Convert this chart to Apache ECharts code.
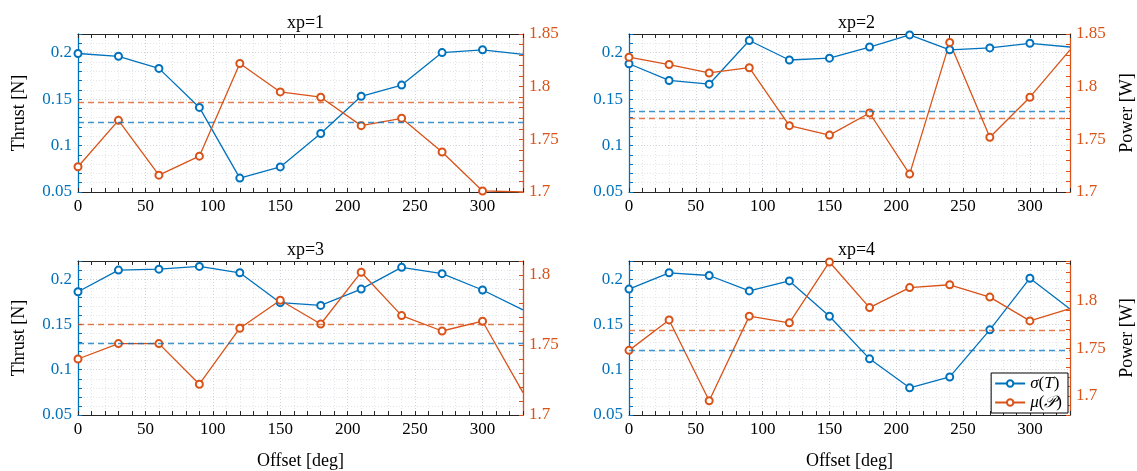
<!DOCTYPE html>
<html>
<head>
<meta charset="utf-8">
<script src="https://cdn.jsdelivr.net/npm/echarts@6/dist/echarts.min.js"></script>
<style>
  html, body { margin: 0; padding: 0; background: #fff; }
  #chart { width: 1137px; height: 471px; }
</style>
</head>
<body>
<div id="chart"></div>
<script>
// offsets [deg], one sample every 30 deg
var offsets = [0, 30, 60, 90, 120, 150, 180, 210, 240, 270, 300, 330];

// sigma(T) [N] per experiment
var thrust1 = [0.199, 0.196, 0.183, 0.141, 0.065, 0.077, 0.113, 0.153, 0.165, 0.200, 0.203, 0.198];
var thrust2 = [0.188, 0.170, 0.166, 0.213, 0.192, 0.194, 0.206, 0.219, 0.203, 0.205, 0.210, 0.206];
var thrust3 = [0.186, 0.210, 0.211, 0.214, 0.207, 0.174, 0.171, 0.189, 0.213, 0.206, 0.188, 0.166];
var thrust4 = [0.189, 0.207, 0.204, 0.187, 0.198, 0.159, 0.112, 0.080, 0.092, 0.144, 0.201, 0.167];

// mu(P) [W] per experiment
var power1 = [1.724, 1.768, 1.716, 1.734, 1.822, 1.795, 1.790, 1.763, 1.770, 1.738, 1.701, 1.700];
var power2 = [1.828, 1.821, 1.813, 1.818, 1.763, 1.754, 1.775, 1.717, 1.842, 1.752, 1.790, 1.835];
var power3 = [1.740, 1.751, 1.751, 1.722, 1.762, 1.782, 1.765, 1.802, 1.771, 1.760, 1.767, 1.716];
var power4 = [1.748, 1.780, 1.695, 1.784, 1.777, 1.841, 1.793, 1.814, 1.817, 1.804, 1.779, 1.792];

// dashed reference levels
var thrustRef = [0.1255, 0.1365, 0.129, 0.122];
var powerRef = [1.785, 1.770, 1.765, 1.769];

// tick labels
var offsetTicks = [0, 50, 100, 150, 200, 250, 300];
var thrustTicks = [0.05, 0.1, 0.15, 0.2];
var powerTicks1 = [1.7, 1.75, 1.8, 1.85];
var powerTicks2 = [1.7, 1.75, 1.8, 1.85];
var powerTicks3 = [1.7, 1.75, 1.8];
var powerTicks4 = [1.7, 1.75, 1.8];

var titles = ['xp=1', 'xp=2', 'xp=3', 'xp=4'];

var thrust = [thrust1, thrust2, thrust3, thrust4];
var power = [power1, power2, power3, power4];
var powerTicks = [powerTicks1, powerTicks2, powerTicks3, powerTicks4];
var powerMin = [1.7, 1.7, 1.7, 1.68];
var powerMax = [1.85, 1.85, 1.81, 1.842];

var BLUE = '#0072BD';
var ORANGE = '#D95319';
var DARK = '#262626';
var FONT = "'Liberation Serif', 'DejaVu Serif', serif";
var MAJOR = '#cfd4da';
var MINOR = '#e2e6ea';

var boxes = [
  { left: 78, top: 34 },
  { left: 629, top: 34 },
  { left: 78, top: 261 },
  { left: 629, top: 261 }
];
var W = 445, H = 158;

function tickFmt(list) {
  return function (v) {
    for (var k = 0; k < list.length; k++) {
      if (Math.abs(list[k] - v) < 1e-6) return String(list[k]);
    }
    return '';
  };
}

var grid = [], xAxis = [], yAxis = [], series = [], title = [];

for (var i = 0; i < 4; i++) {
  var b = boxes[i];
  grid.push({ left: b.left, top: b.top, width: W, height: H, containLabel: false });

  title.push({
    text: titles[i],
    left: b.left + W / 2,
    top: b.top - 25,
    textAlign: 'center',
    textStyle: { fontFamily: FONT, fontSize: 18, fontWeight: 'normal', color: '#000' }
  });

  // bottom offset axis
  xAxis.push({
    type: 'value', gridIndex: i, min: 0, max: 330, interval: 10, position: 'bottom',
    name: i >= 2 ? 'Offset [deg]' : '', nameLocation: 'middle', nameGap: 37,
    nameTextStyle: { fontFamily: FONT, fontSize: 18, color: '#000' },
    axisLine: { onZero: false, lineStyle: { color: DARK, width: 1 } },
    axisTick: { inside: true, length: 4, lineStyle: { color: DARK } },
    axisLabel: { formatter: tickFmt(offsetTicks), fontFamily: FONT, fontSize: 17, color: '#000', margin: 6 },
    splitLine: { show: true, lineStyle: { type: [1, 2], color: [MAJOR, MINOR, MINOR, MINOR, MINOR], width: 1 } }
  });
  // top box edge
  xAxis.push({
    type: 'value', gridIndex: i, min: 0, max: 330, interval: 10, position: 'top',
    axisLine: { onZero: false, lineStyle: { color: DARK, width: 1 } },
    axisTick: { inside: true, length: 4, lineStyle: { color: DARK } },
    axisLabel: { show: false },
    splitLine: { show: false }
  });

  // left thrust axis
  yAxis.push({
    type: 'value', gridIndex: i, min: 0.05, max: 0.22, interval: 0.01, position: 'left',
    name: i % 2 === 0 ? 'Thrust [N]' : '', nameLocation: 'middle', nameGap: 50,
    nameTextStyle: { fontFamily: FONT, fontSize: 18, color: '#000' },
    axisLine: { show: true, onZero: false, lineStyle: { color: BLUE, width: 1.3 } },
    axisTick: { show: true, inside: true, length: 4, lineStyle: { color: BLUE } },
    axisLabel: { formatter: tickFmt(thrustTicks), fontFamily: FONT, fontSize: 17, color: BLUE, margin: 6 },
    splitLine: { show: true, lineStyle: { type: [1, 2], color: [MAJOR, MINOR, MINOR, MINOR, MINOR], width: 1 } }
  });
  // right power axis
  yAxis.push({
    type: 'value', gridIndex: i, min: powerMin[i], max: powerMax[i], interval: 0.01, position: 'right',
    name: i % 2 === 1 ? 'Power [W]' : '', nameLocation: 'middle', nameGap: 48, nameRotate: 90,
    nameTextStyle: { fontFamily: FONT, fontSize: 18, color: '#000' },
    axisLine: { show: true, onZero: false, lineStyle: { color: ORANGE, width: 1.3 } },
    axisTick: { show: true, inside: true, length: 4, lineStyle: { color: ORANGE } },
    axisLabel: { formatter: tickFmt(powerTicks[i]), fontFamily: FONT, fontSize: 17, color: ORANGE, margin: 6 },
    splitLine: { show: false }
  });

  var tData = [], pData = [];
  for (var j = 0; j < offsets.length; j++) {
    var last = offsets[j] >= 330;
    tData.push(last ? { value: [offsets[j], thrust[i][j]], symbol: 'none' } : [offsets[j], thrust[i][j]]);
    pData.push(last ? { value: [offsets[j], power[i][j]], symbol: 'none' } : [offsets[j], power[i][j]]);
  }

  series.push({
    name: 'σ(T)', type: 'line', xAxisIndex: 2 * i, yAxisIndex: 2 * i,
    data: tData, symbol: 'emptyCircle', symbolSize: 7, z: 3,
    lineStyle: { color: BLUE, width: 1.3 },
    itemStyle: { color: BLUE, borderWidth: 1.3 },
    markLine: {
      silent: true, symbol: 'none', precision: 6, label: { show: false },
      lineStyle: { color: BLUE, type: [6, 4], width: 1.3, opacity: 0.75 },
      data: [{ yAxis: thrustRef[i] }]
    }
  });
  series.push({
    name: 'μ(P)', type: 'line', xAxisIndex: 2 * i, yAxisIndex: 2 * i + 1,
    data: pData, symbol: 'emptyCircle', symbolSize: 7, z: 3,
    lineStyle: { color: ORANGE, width: 1.3 },
    itemStyle: { color: ORANGE, borderWidth: 1.3 },
    markLine: {
      silent: true, symbol: 'none', precision: 6, label: { show: false },
      lineStyle: { color: ORANGE, type: [6, 4], width: 1.3, opacity: 0.75 },
      data: [{ yAxis: powerRef[i] }]
    }
  });
}

var myChart = echarts.init(document.getElementById('chart'));
var option = {
  animation: false,
  backgroundColor: '#fff',
  title: title,
  legend: {
    data: ['σ(T)', 'μ(P)'],
    orient: 'vertical',
    right: 1137 - 629 - W + 6,
    bottom: 471 - 261 - H + 6,
    itemWidth: 30, itemHeight: 8, itemGap: 2,
    padding: [2, 6, 2, 3],
    backgroundColor: '#fff',
    borderColor: '#000', borderWidth: 1, borderRadius: 0,
    formatter: function (name) {
      return name === 'σ(T)' ? '{i|σ}{n|(}{i|T}{n|)}' : '{i|μ}{n|(}{c|𝒫}{n|)}';
    },
    textStyle: {
      fontFamily: FONT, fontSize: 17, color: '#000',
      rich: {
        n: { fontFamily: FONT, fontSize: 17 },
        i: { fontFamily: FONT, fontSize: 17, fontStyle: 'italic' },
        c: { fontFamily: "'DejaVu Serif', 'DejaVu Sans', serif", fontSize: 16, fontStyle: 'italic' }
      }
    }
  },
  grid: grid,
  xAxis: xAxis,
  yAxis: yAxis,
  series: series
};
myChart.setOption(option);
</script>
</body>
</html>
